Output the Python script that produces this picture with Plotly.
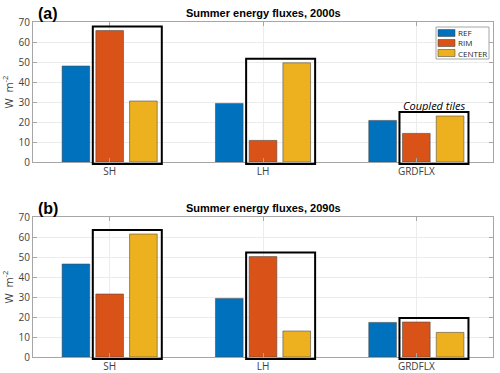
import plotly.graph_objects as go

# values (W m-2)
categories = ["SH", "LH", "GRDFLX"]
series = ["REF", "RIM", "CENTER"]
colors = ["#0072BD", "#D95319", "#EDB120"]

ref_2000s = [48.0, 29.3, 20.8]
rim_2000s = [65.7, 10.8, 14.3]
center_2000s = [30.5, 49.6, 23.0]

ref_2090s = [46.5, 29.3, 17.3]
rim_2090s = [31.5, 50.2, 17.5]
center_2090s = [61.5, 13.0, 12.3]

titles = ["Summer energy fluxes, 2000s", "Summer energy fluxes, 2090s"]
panel_tags = ["(a)", "(b)"]
yticks = [0, 10, 20, 30, 40, 50, 60, 70]

panels = [
    [ref_2000s, rim_2000s, center_2000s],
    [ref_2090s, rim_2090s, center_2090s],
]
xpos = [1, 2, 3]

W, H = 500, 373
ML, MR, MT, MB = 33, 7, 22, 16
PW, PH = W - ML - MR, H - MT - MB


def px(x):  # pixel -> paper x
    return (x - ML) / PW


def py(y):  # pixel -> paper y
    return (H - MB - y) / PH


fig = go.Figure()
domains = [[py(162), 1.0], [0.0, py(217)]]

for p, vals in enumerate(panels):
    xa = "x" if p == 0 else "x2"
    ya = "y" if p == 0 else "y2"
    for s, name in enumerate(series):
        fig.add_trace(go.Bar(
            x=xpos, y=vals[s], name=name,
            marker=dict(color=colors[s], line=dict(color="rgba(70,70,70,0.55)", width=1)),
            xaxis=xa, yaxis=ya, showlegend=False,
            offsetgroup=str(s),
        ))
    # coupled-tile boxes around RIM and CENTER
    for i, x in enumerate(xpos):
        top = max(vals[1][i], vals[2][i]) + 2
        fig.add_shape(type="rect", xref=xa, yref=ya + " domain",
                      x0=x - 0.11, x1=x + 0.34, y0=-0.014, y1=top / 70,
                      line=dict(color="black", width=2), fillcolor="rgba(0,0,0,0)")
    dom = domains[p]
    fig.add_annotation(text="<b>" + titles[p] + "</b>", xref="paper", yref="paper",
                       x=px(263), y=dom[1], yanchor="bottom", showarrow=False, yshift=1,
                       font=dict(size=11, color="black", family="Liberation Sans"))
    fig.add_annotation(text="<b>" + panel_tags[p] + "</b>", xref="paper", yref="paper",
                       x=px(36), y=dom[1], xanchor="left", yanchor="bottom", showarrow=False,
                       yshift=-2, font=dict(size=16, color="black", family="Liberation Sans"))

# label over the GRDFLX box of panel (a)
fig.add_annotation(text="<i>Coupled tiles</i>", xref="x", yref="y",
                   x=3.115, y=max(rim_2000s[2], center_2000s[2]) + 2, yanchor="bottom",
                   showarrow=False, font=dict(size=11, color="black", family="Open Sans"),
                   yshift=-3)

# legend drawn by hand (compact MATLAB-style)
fig.add_shape(type="rect", xref="paper", yref="paper", x0=px(436), x1=px(489),
              y0=py(59), y1=py(27), line=dict(color="#a6a6a6", width=1), fillcolor="white")
for s, name in enumerate(series):
    yc = 33 + 10 * s
    fig.add_shape(type="rect", xref="paper", yref="paper", x0=px(438), x1=px(455),
                  y0=py(yc + 3.5), y1=py(yc - 3.5),
                  line=dict(color="rgba(70,70,70,0.55)", width=1), fillcolor=colors[s])
fig.add_annotation(text="<br>".join(series), xref="paper", yref="paper", x=px(456),
                   y=py(43), xanchor="left", yanchor="middle", align="left", showarrow=False,
                   font=dict(size=8, color="#262626", family="Open Sans"))

axis_common = dict(showline=True, linecolor="#a6a6a6", linewidth=1, mirror="ticks",
                   ticks="inside", ticklen=4, tickcolor="#a6a6a6", automargin=False,
                   tickfont=dict(size=10, color="#404040", family="Open Sans"),
                   gridcolor="#ececec", zeroline=False)

for p in range(2):
    sfx = "" if p == 0 else "2"
    fig.update_layout(**{
        "xaxis" + sfx: dict(axis_common, range=[0.5, 3.5], tickvals=xpos, ticktext=categories,
                            anchor="y" + sfx, showgrid=True),
        "yaxis" + sfx: dict(axis_common, range=[0, 70], tickvals=yticks, domain=domains[p],
                            anchor="x" + sfx, showgrid=True,
                            title=dict(text="W  m<sup>-2</sup>", standoff=5,
                                       font=dict(size=11, color="#404040", family="Open Sans"))),
    })

fig.update_layout(
    width=W, height=H,
    margin=dict(l=ML, r=MR, t=MT, b=MB),
    plot_bgcolor="white", paper_bgcolor="white",
    barmode="group", bargap=0.34, bargroupgap=0.18,
    showlegend=False,
)

fig.write_html("out.html", config={"displayModeBar": False},
               post_script="document.body.style.margin='0';")
